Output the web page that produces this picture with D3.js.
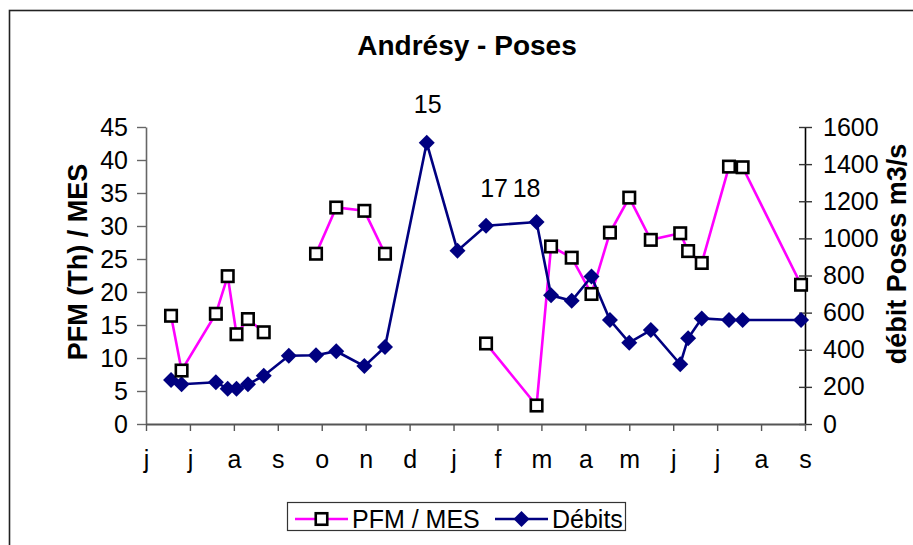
<!DOCTYPE html>
<html>
<head>
<meta charset="utf-8">
<script src="https://cdn.jsdelivr.net/npm/d3@7"></script>
<style>
  html, body { margin: 0; padding: 0; background: #fff; }
  svg { display: block; font-family: "Liberation Sans", Arial, sans-serif; }
</style>
</head>
<body>
<svg id="chart" width="913" height="545"></svg>
<script>
// Month labels along the bottom axis (June to the following September)
const monthLabels = ["j", "j", "a", "s", "o", "n", "d", "j", "f", "m", "a", "m", "j", "j", "a", "s"];

// Sampling positions on the month axis (0 = start of the first June)
const samplePos = [0.57, 0.81, 1.59, 1.86, 2.06, 2.32, 2.68, 3.25, 3.87, 4.33, 4.97, 5.44,
  6.39, 7.09, 7.74, 8.89, 9.22, 9.69, 10.14, 10.56, 11.00, 11.49, 12.16, 12.34, 12.65,
  13.27, 13.58, 14.91];

// Flow at Poses (m3/s)
const debits = [237, 214, 225, 190, 190, 214, 260, 368, 370, 392, 312, 415,
  1515, 934, 1068, 1088, 693, 664, 794, 560, 438, 506, 322, 462, 569,
  560, 560, 560];

// PFM (Th) / MES ratio; null where no measurement was taken
const pfmMes = [16.4, 8.1, 16.7, 22.4, 13.6, 15.9, 13.9, null, 25.8, 32.8, 32.3, 25.8,
  null, null, 12.2, 2.8, 26.9, 25.2, 19.7, 29.0, 34.3, 27.9, 28.9, 26.2, 24.4,
  39.0, 38.9, 21.1];

// Text annotations attached to flow samples
const annotIndex = [12, 14, 15];
const annotText = ["15", "17", "18"];

// Axis ticks
const leftTicks = [0, 5, 10, 15, 20, 25, 30, 35, 40, 45];
const rightTicks = [0, 200, 400, 600, 800, 1000, 1200, 1400, 1600];

const svg = d3.select("#chart");

const plot = { left: 146, right: 805, top: 127, bottom: 424 };

const x = d3.scaleLinear().domain([0, monthLabels.length - 1]).range([plot.left, plot.right]);
const yL = d3.scaleLinear().domain([0, 45]).range([plot.bottom, plot.top]);
const yR = d3.scaleLinear().domain([0, 1600]).range([plot.bottom, plot.top]);

const PINK = "#ff00ff";
const NAVY = "#000080";
const TICK_FONT = 25;
const FONT = "Liberation Sans, Arial, sans-serif";

// Outer chart frame
svg.append("rect")
  .attr("x", 9.5).attr("y", 10.5)
  .attr("width", 1000).attr("height", 1000)
  .attr("fill", "none").attr("stroke", "#222").attr("stroke-width", 1.6);

// Title
svg.append("text")
  .attr("x", 467).attr("y", 55)
  .attr("text-anchor", "middle")
  .attr("font-weight", "bold").attr("font-size", 28)
  .text("Andrésy - Poses");

// Left axis
const gL = svg.append("g").attr("transform", `translate(${plot.left},0)`)
  .call(d3.axisLeft(yL).tickValues(leftTicks).tickFormat(d3.format("d"))
    .tickSize(9).tickPadding(9).tickSizeOuter(0));
gL.select(".domain").attr("stroke", "#666").attr("stroke-width", 1.6);
gL.selectAll(".tick line").attr("stroke", "#666").attr("stroke-width", 1.4);
gL.selectAll(".tick text").attr("font-size", TICK_FONT).attr("font-family", FONT).attr("fill", "#000");

// Right axis (ticks cross the axis line)
const gR = svg.append("g").attr("transform", `translate(${plot.right},0)`)
  .call(d3.axisRight(yR).tickValues(rightTicks).tickFormat(d3.format("d"))
    .tickSize(7).tickPadding(11).tickSizeOuter(0));
gR.select(".domain").attr("stroke", "#000").attr("stroke-width", 1.6);
gR.selectAll(".tick line").attr("x1", -6).attr("stroke", "#333").attr("stroke-width", 1.4);
gR.selectAll(".tick text").attr("font-size", TICK_FONT).attr("font-family", FONT).attr("fill", "#000");

// Bottom month axis
const gB = svg.append("g").attr("transform", `translate(0,${plot.bottom})`)
  .call(d3.axisBottom(x).tickValues(d3.range(monthLabels.length))
    .tickFormat(i => monthLabels[i]).tickSize(7).tickPadding(19).tickSizeOuter(0));
gB.select(".domain").attr("stroke", "#555").attr("stroke-width", 1.8);
gB.selectAll(".tick line").attr("stroke", "#555").attr("stroke-width", 1.4);
gB.selectAll(".tick text").attr("font-size", TICK_FONT).attr("font-family", FONT).attr("fill", "#000");

// Axis titles
svg.append("text")
  .attr("transform", "translate(87,262) rotate(-90)")
  .attr("text-anchor", "middle")
  .attr("font-weight", "bold").attr("font-size", 27)
  .text("PFM (Th) / MES");

svg.append("text")
  .attr("transform", "translate(906,254) rotate(-90)")
  .attr("text-anchor", "middle")
  .attr("font-weight", "bold").attr("font-size", 27)
  .text("débit Poses m3/s");

// Series
const pts = samplePos.map((p, i) => ({ p, q: debits[i], r: pfmMes[i], i }));

const pfmLine = d3.line()
  .defined(d => d.r !== null)
  .x(d => x(d.p)).y(d => yL(d.r));
const flowLine = d3.line()
  .x(d => x(d.p)).y(d => yR(d.q));

svg.append("path").datum(pts)
  .attr("d", pfmLine)
  .attr("fill", "none").attr("stroke", PINK).attr("stroke-width", 2.6);

svg.append("path").datum(pts)
  .attr("d", flowLine)
  .attr("fill", "none").attr("stroke", NAVY).attr("stroke-width", 2.6);

// Flow markers (diamonds)
const DIAMOND = "M0,-8L8,0L0,8L-8,0Z";
svg.append("g").selectAll("path").data(pts).join("path")
  .attr("transform", d => `translate(${x(d.p)},${yR(d.q)})`)
  .attr("d", DIAMOND)
  .attr("fill", NAVY);

// PFM markers (open squares)
const SQ = 11.5;
svg.append("g").selectAll("rect").data(pts.filter(d => d.r !== null)).join("rect")
  .attr("x", d => x(d.p) - SQ / 2).attr("y", d => yL(d.r) - SQ / 2)
  .attr("width", SQ).attr("height", SQ)
  .attr("fill", "#fff").attr("stroke", "#000").attr("stroke-width", 2.6);

// Annotations above selected flow samples
const annotShift = { "15": [1, -30], "17": [8, -29], "18": [-10, -25] };
svg.append("g").selectAll("text").data(annotIndex).join("text")
  .attr("x", (d, k) => x(samplePos[d]) + annotShift[annotText[k]][0])
  .attr("y", (d, k) => yR(debits[d]) + annotShift[annotText[k]][1])
  .attr("text-anchor", "middle")
  .attr("font-size", TICK_FONT)
  .text((d, k) => annotText[k]);

// Legend
const lg = svg.append("g");
lg.append("rect")
  .attr("x", 287.5).attr("y", 502.5).attr("width", 338).attr("height", 28)
  .attr("fill", "#fff").attr("stroke", "#333").attr("stroke-width", 1.2);

const legendY = 519;
lg.append("line").attr("x1", 295).attr("x2", 348).attr("y1", legendY).attr("y2", legendY)
  .attr("stroke", PINK).attr("stroke-width", 2.6);
lg.append("rect").attr("x", 321.5 - SQ / 2).attr("y", legendY - SQ / 2)
  .attr("width", SQ).attr("height", SQ)
  .attr("fill", "#fff").attr("stroke", "#000").attr("stroke-width", 2.6);
lg.append("text").attr("x", 352).attr("y", legendY + 9)
  .attr("font-size", TICK_FONT).text("PFM / MES");

lg.append("line").attr("x1", 495).attr("x2", 548).attr("y1", legendY).attr("y2", legendY)
  .attr("stroke", NAVY).attr("stroke-width", 2.6);
lg.append("path").attr("transform", `translate(521.5,${legendY})`)
  .attr("d", DIAMOND).attr("fill", NAVY);
lg.append("text").attr("x", 552).attr("y", legendY + 9)
  .attr("font-size", TICK_FONT).text("Débits");
</script>
</body>
</html>
